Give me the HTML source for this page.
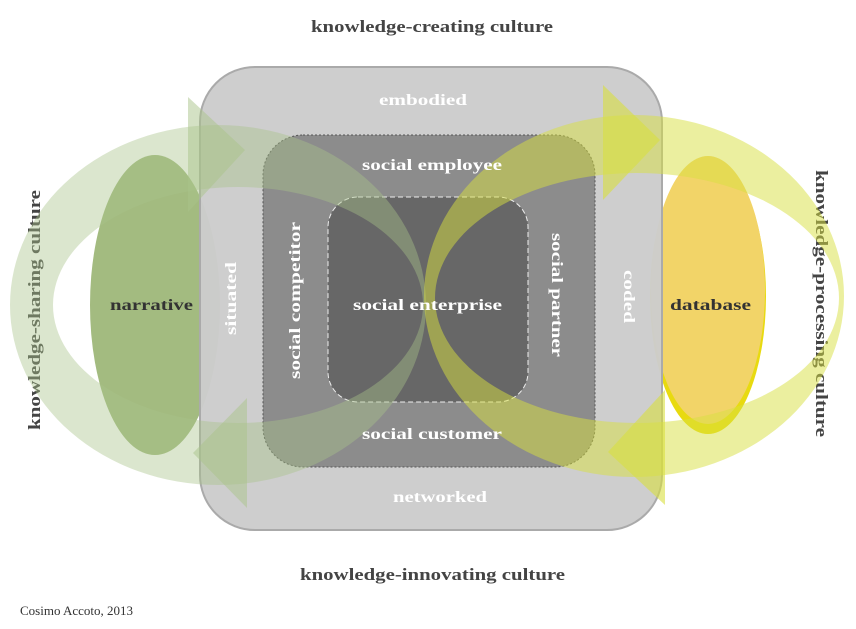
<!DOCTYPE html>
<html><head><meta charset="utf-8"><style>
html,body{margin:0;padding:0;background:#fff;}
svg{display:block;font-family:"Liberation Serif",serif;font-weight:bold;}
</style></head><body>
<svg width="856" height="629" viewBox="0 0 856 629" xmlns="http://www.w3.org/2000/svg">
<text x="311" y="32" font-size="17" fill="#444" textLength="242" lengthAdjust="spacingAndGlyphs">knowledge-creating culture</text>
<text x="300" y="580" font-size="17" fill="#444" textLength="265" lengthAdjust="spacingAndGlyphs">knowledge-innovating culture</text>
<text x="20" y="615" font-size="13" font-weight="normal" fill="#333">Cosimo Accoto, 2013</text>
<text transform="translate(40,430) rotate(-90)" font-size="17" fill="#444" textLength="240" lengthAdjust="spacingAndGlyphs">knowledge-sharing culture</text>
<text transform="translate(816,170) rotate(90)" font-size="17" fill="#444" textLength="267" lengthAdjust="spacingAndGlyphs">knowledge-processing culture</text>

<ellipse cx="155" cy="305" rx="65" ry="150" fill="#a3bb80"/>
<ellipse cx="708" cy="296" rx="58" ry="138" fill="#e8da10"/>
<ellipse cx="708" cy="290" rx="57" ry="134" fill="#f2d468"/>

<rect x="200" y="67" width="462" height="463" rx="55" fill="#cccccc" fill-opacity="0.97" stroke="#aaa" stroke-width="2"/>
<rect x="263" y="135" width="332" height="332" rx="40" fill="#8c8c8c" stroke="#555" stroke-dasharray="2,2"/>
<rect x="328" y="197" width="200" height="205" rx="30" fill="#676767" stroke="#eee" stroke-dasharray="5,3"/>

<path fill-rule="evenodd" fill="#a9c48a" fill-opacity="0.42" d="M10,305 a208,180 0 1,0 416,0 a208,180 0 1,0 -416,0 Z M53,305 a185,118 0 1,0 370,0 a185,118 0 1,0 -370,0 Z"/>
<polygon points="188,97 245,150 188,212" fill="#a9c48a" fill-opacity="0.5"/>
<polygon points="247,398 193,453 247,508" fill="#a9c48a" fill-opacity="0.5"/>

<path fill-rule="evenodd" fill="#d8e040" fill-opacity="0.5" d="M424,296 a210,181 0 1,0 420,0 a210,181 0 1,0 -420,0 Z M435,298 a202,125 0 1,0 404,0 a202,125 0 1,0 -404,0 Z"/>
<polygon points="603,85 660,140 603,200" fill="#d8e040" fill-opacity="0.6"/>
<polygon points="665,390 608,452 665,505" fill="#d8e040" fill-opacity="0.6"/>

<g fill="#fff" font-size="16" lengthAdjust="spacingAndGlyphs">
<text x="379" y="105" textLength="88" lengthAdjust="spacingAndGlyphs">embodied</text>
<text x="393" y="502" textLength="94" lengthAdjust="spacingAndGlyphs">networked</text>
<text x="362" y="170" textLength="140" lengthAdjust="spacingAndGlyphs">social employee</text>
<text x="362" y="439" textLength="140" lengthAdjust="spacingAndGlyphs">social customer</text>
<text x="353" y="310" textLength="149" lengthAdjust="spacingAndGlyphs">social enterprise</text>
<text transform="translate(236,335) rotate(-90)" textLength="73" lengthAdjust="spacingAndGlyphs">situated</text>
<text transform="translate(300,379) rotate(-90)" textLength="157" lengthAdjust="spacingAndGlyphs">social competitor</text>
<text transform="translate(552,233) rotate(90)" textLength="124" lengthAdjust="spacingAndGlyphs">social partner</text>
<text transform="translate(624,270) rotate(90)" textLength="53" lengthAdjust="spacingAndGlyphs">coded</text>
</g>
<text x="110" y="310" font-size="16" fill="#333" textLength="83" lengthAdjust="spacingAndGlyphs">narrative</text>
<text x="670" y="310" font-size="16" fill="#333" textLength="81" lengthAdjust="spacingAndGlyphs">database</text>
</svg>
</body></html>
